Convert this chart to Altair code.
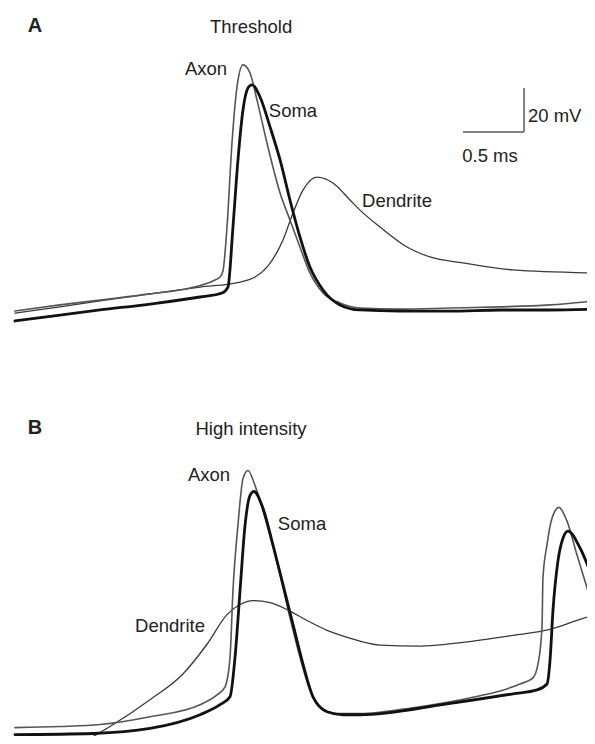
import altair as alt
import pandas as pd

# ---------------- Panel A : Threshold ----------------
a_axon_t = [0.057, 0.426, 0.754, 1.164, 1.492, 1.680, 1.738, 1.762, 1.795, 1.836, 1.877, 1.926, 1.984, 2.041,
            2.123, 2.230, 2.311, 2.393, 2.475, 2.582, 2.721, 2.885, 3.213, 3.623, 4.033, 4.443, 4.811]
a_axon_v = [-71.4, -68.6, -66.4, -63.6, -60.9, -57.7, -55.9, -53.2, -33.2, 5.0, 30.5, 40.5, 36.8, 24.5,
            5.0, -17.7, -30.0, -42.3, -54.1, -63.2, -67.7, -70.0, -70.5, -70.0, -69.5, -68.6, -66.8]

a_soma_t = [0.057, 0.426, 0.754, 1.164, 1.574, 1.754, 1.803, 1.844, 1.885, 1.926, 1.967, 2.000, 2.066,
            2.148, 2.230, 2.311, 2.393, 2.475, 2.582, 2.721, 2.885, 3.213, 3.623, 4.033, 4.443, 4.811]
a_soma_v = [-75.9, -73.2, -70.9, -68.2, -65.0, -63.2, -60.5, -33.2, -2.7, 20.0, 30.0, 31.4, 25.9,
            12.3, -2.7, -20.9, -37.7, -51.4, -61.8, -68.6, -70.9, -71.4, -71.4, -70.9, -70.9, -70.5]

a_dend_t = [0.057, 0.426, 0.754, 1.164, 1.574, 1.902, 2.025, 2.123, 2.254, 2.336, 2.418, 2.533, 2.664,
            2.803, 2.885, 3.049, 3.270, 3.459, 3.730, 4.139, 4.811]
a_dend_v = [-72.3, -69.5, -66.8, -63.6, -60.5, -58.2, -55.9, -51.4, -39.1, -26.8, -16.4, -10.5, -13.2,
            -20.9, -25.5, -33.2, -42.3, -46.8, -49.5, -52.7, -54.1]

# ---------------- Panel B : High intensity ----------------
b_axon_t = [0.057, 0.426, 0.754, 1.164, 1.574, 1.713, 1.779, 1.820, 1.844, 1.885, 1.926, 1.967, 2.025,
            2.123, 2.230, 2.311, 2.393, 2.475, 2.582, 2.721, 2.885, 3.320, 3.869, 4.033, 4.197, 4.303,
            4.344, 4.377, 4.385, 4.418, 4.459, 4.516, 4.582, 4.664, 4.746, 4.811]
b_axon_v = [-72.3, -71.8, -70.9, -67.3, -61.8, -57.3, -53.6, -40.0, -9.5, 20.5, 41.8, 45.5, 38.6,
            20.5, -2.3, -21.8, -40.0, -55.0, -64.1, -65.9, -65.9, -63.2, -57.7, -55.5, -52.3, -49.5,
            -43.2, -26.4, -3.6, 11.4, 23.6, 28.6, 22.3, 6.8, -8.2, -20.5]

b_soma_t = [0.057, 0.697, 1.164, 1.574, 1.738, 1.820, 1.861, 1.902, 1.943, 1.984, 2.016, 2.090, 2.172,
            2.254, 2.336, 2.418, 2.500, 2.615, 2.746, 2.885, 3.598, 4.139, 4.336, 4.418, 4.443, 4.467,
            4.508, 4.549, 4.590, 4.689, 4.811]
b_soma_v = [-75.5, -75.0, -72.7, -66.4, -61.8, -58.2, -40.0, -9.5, 20.5, 34.1, 35.9, 28.2, 11.4,
            -6.8, -25.0, -43.2, -58.2, -65.0, -66.4, -66.4, -61.4, -56.8, -55.0, -52.3, -41.4, -18.6,
            4.1, 14.5, 17.7, 10.0, -6.8]

b_dend_t = [0.590, 0.697, 0.836, 1.164, 1.434, 1.631, 1.795, 1.902, 2.008, 2.148, 2.287, 2.451, 2.615,
            2.779, 3.049, 3.377, 3.730, 4.139, 4.443, 4.664, 4.811]
b_dend_v = [-80.0, -76.4, -71.8, -59.5, -47.7, -34.1, -20.5, -15.9, -14.1, -15.0, -18.2, -23.2, -27.7,
            -30.9, -34.5, -35.0, -33.2, -30.0, -27.3, -23.2, -20.5]

# ---------------- Labels (t in ms, v in mV at text baseline) ----------------
trace_names = ["Axon", "Soma", "Dendrite"]
a_label_t = [1.623, 2.336, 3.189]
a_label_v = [35.9, 16.8, -24.1]
b_label_t = [1.648, 2.410, 1.328]
b_label_v = [40.5, 18.2, -28.6]

panel_titles = ["Threshold", "High intensity"]
panel_title_t = [1.992, 1.992]
panel_title_v = [55.0, 61.8]
panel_letters = ["A", "B"]
panel_letter_t = [0.221, 0.221]
panel_letter_v = [55.4, 62.3]

# scale bar: 0.5 ms x 20 mV
bar_t_end = 4.23
bar_v_start = 10.0
bar_ms = 0.5
bar_mv = 20.0
bar_labels = ["20 mV", "0.5 ms"]
bar_label_t = [4.262, 3.951]
bar_label_v = [14.5, -3.6]

W = 579
X_DOMAIN = [0, 4.7459]
H_A = 368
Y_DOMAIN_A = [-100.91, 66.36]
H_B = 360
Y_DOMAIN_B = [-76.14, 88.82]

FONT = "Liberation Sans"
FS = 18.5


def xenc():
    return alt.X("t:Q", scale=alt.Scale(domain=X_DOMAIN), axis=None)


def yenc(dom):
    return alt.Y("v:Q", scale=alt.Scale(domain=dom), axis=None)


def trace(t, v, color, width, dom):
    df = pd.DataFrame({"t": t, "v": v, "i": list(range(len(t)))})
    return alt.Chart(df).mark_line(
        color=color, strokeWidth=width, clip=True, interpolate="monotone",
        strokeJoin="round", strokeCap="round"
    ).encode(x=xenc(), y=yenc(dom), order="i:Q")


def texts(t, v, labels, dom, align="center", bold=False, size=FS):
    df = pd.DataFrame({"t": t, "v": v, "label": labels})
    return alt.Chart(df).mark_text(
        align=align, baseline="alphabetic", font=FONT, fontSize=size,
        fontWeight="bold" if bold else "normal", color="#222"
    ).encode(x=xenc(), y=yenc(dom), text="label:N")


def panel(idx, axon, soma, dend, lab_t, lab_v, dom, height, scalebar=False):
    layers = [
        trace(dend[0], dend[1], "#3a3a3a", 1.3, dom),
        trace(axon[0], axon[1], "#555555", 1.6, dom),
        trace(soma[0], soma[1], "#111111", 2.8, dom),
        texts(lab_t, lab_v, trace_names, dom),
        texts([panel_title_t[idx]], [panel_title_v[idx]], [panel_titles[idx]], dom),
        texts([panel_letter_t[idx]], [panel_letter_v[idx]], [panel_letters[idx]], dom, bold=True, size=20),
    ]
    if scalebar:
        bars = pd.DataFrame({
            "t": [bar_t_end, bar_t_end - bar_ms],
            "t2": [bar_t_end, bar_t_end],
            "v": [bar_v_start, bar_v_start],
            "v2": [bar_v_start + bar_mv, bar_v_start],
        })
        layers.append(
            alt.Chart(bars).mark_rule(color="#808080", strokeWidth=2).encode(
                x=xenc(), x2="t2:Q", y=yenc(dom), y2="v2:Q")
        )
        layers.append(texts(bar_label_t[:1], bar_label_v[:1], bar_labels[:1], dom, align="left"))
        layers.append(texts(bar_label_t[1:], bar_label_v[1:], bar_labels[1:], dom))
    return alt.layer(*layers).properties(width=W, height=height)


pA = panel(0, (a_axon_t, a_axon_v), (a_soma_t, a_soma_v), (a_dend_t, a_dend_v),
           a_label_t, a_label_v, Y_DOMAIN_A, H_A, scalebar=True)
pB = panel(1, (b_axon_t, b_axon_v), (b_soma_t, b_soma_v), (b_dend_t, b_dend_v),
           b_label_t, b_label_v, Y_DOMAIN_B, H_B)

chart = alt.vconcat(pA, pB, spacing=0, padding=0).configure_view(stroke=None)

chart.save("out.html", embed_options={"renderer": "svg", "actions": False})
